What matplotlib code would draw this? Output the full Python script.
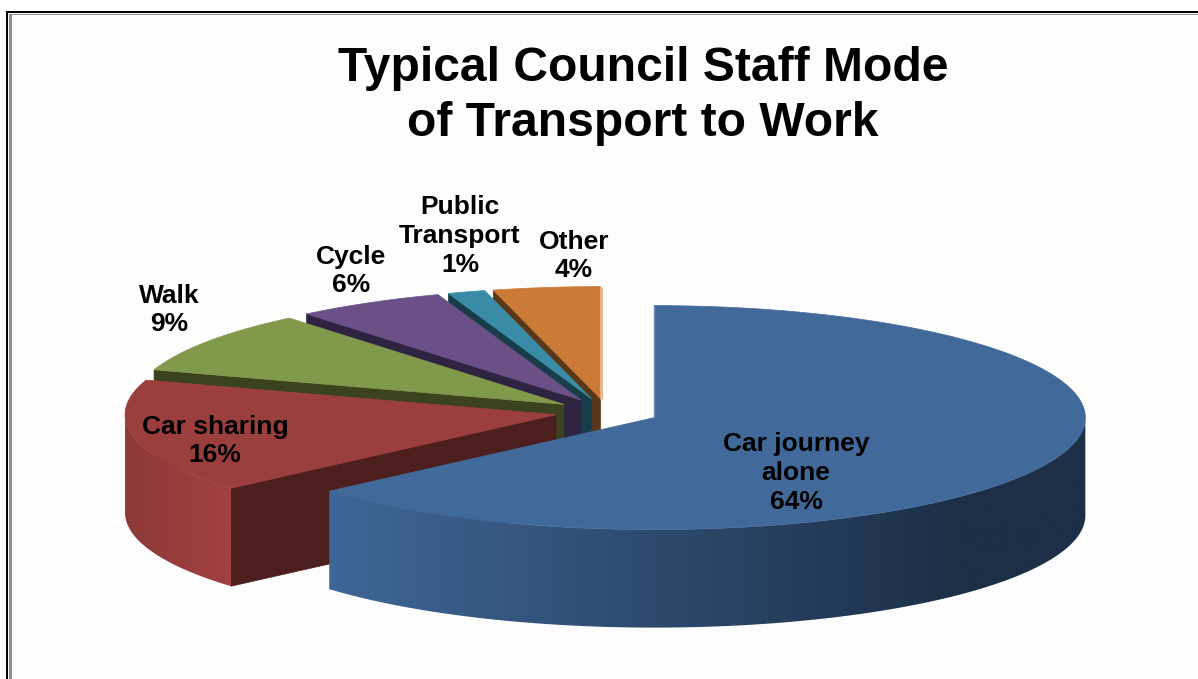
import numpy as np
import matplotlib
matplotlib.use("Agg")
import matplotlib.pyplot as plt
from matplotlib.patches import Polygon, Rectangle
from matplotlib.colors import to_rgb

# Chart data
categorias = ["Car journey\nalone", "Car sharing", "Walk", "Cycle", "Public\nTransport", "Other"]
valores = [63.6, 16.4, 9, 5.6, 1.4, 4]
etiquetas_pct = ["64%", "16%", "9%", "6%", "1%", "4%"]
titulo = "Typical Council Staff Mode\nof Transport to Work"

# Colours of each slice: top, cut face
color_top = ["#416A9B", "#9B3F3E", "#81994B", "#6A5086", "#3A8BA5", "#CB7A37"]
color_corte = ["#2B4566", "#4D1E1E", "#3A421E", "#2E2340", "#183D4A", "#5A3817"]

# Pie geometry in pixels
CX, CY = 607, 412
RX, RY = 431, 112
PROF = 98
EXPLODE = 52 / 431

# Label centres in pixels
pos_etiquetas = [(796, 473), (215, 441), (169, 310), (351, 271), (460, 236), (574, 256)]


def punto(cx, cy, theta):
    # theta in degrees, clockwise from 12 o'clock
    t = np.radians(theta)
    return cx + RX * np.sin(t), cy - RY * np.cos(t)


def mezcla(c1, c2, t):
    a, b = np.array(to_rgb(c1)), np.array(to_rgb(c2))
    return a + (b - a) * t


def color_pared(i, x):
    # Side wall shading, only the big slice really changes along x
    if i == 0:
        return mezcla("#3F6797", "#1C2F47", np.clip((x - 328) / (960 - 328), 0, 1))
    return mezcla("#8E3A39", "#9E4140", np.clip((x - 125) / 100, 0, 1))


def dibujar_porcion(ax, i, t0, t1, z):
    medio = np.radians((t0 + t1) / 2)
    ax0 = CX + EXPLODE * RX * np.sin(medio)
    ay0 = CY - EXPLODE * RY * np.cos(medio)

    # Cut face on the starting side
    if i > 0:
        x0, y0 = punto(ax0, ay0, t0)
        cara = [(ax0, ay0), (x0, y0), (x0, y0 + PROF), (ax0, ay0 + PROF)]
        ax.add_patch(Polygon(cara, closed=True, fc=color_corte[i], ec=color_corte[i], lw=0.5, zorder=z))

    # Outer wall, only the part facing the viewer, as a gradient clipped to its outline
    a, b = max(t0, 90), min(t1, 270)
    if a < b:
        angulos = np.linspace(a, b, 300)
        xs, ys = punto(ax0, ay0, angulos)
        verts = list(zip(xs, ys)) + list(zip(xs[::-1], ys[::-1] + PROF))
        pared = Polygon(verts, closed=True, fc="none", ec="none", zorder=z)
        ax.add_patch(pared)
        x_min, x_max = xs.min(), xs.max()
        y_min, y_max = ys.min(), ys.max() + PROF
        columnas = np.linspace(x_min, x_max, 400)
        gradiente = np.array([[color_pared(i, c) for c in columnas]])
        img = ax.imshow(gradiente, extent=(x_min, x_max, y_max, y_min), aspect="auto",
                        interpolation="bilinear", zorder=z)
        img.set_clip_path(pared)

    # Top face
    angulos = np.linspace(t0, t1, 200)
    xs, ys = punto(ax0, ay0, angulos)
    verts = [(ax0, ay0)] + list(zip(xs, ys))
    ax.add_patch(Polygon(verts, closed=True, fc=color_top[i], ec=color_top[i], lw=0.5, zorder=z + 0.5))

    # Thin light edge on the last slice and the first one
    if i == 5:
        x1, y1 = punto(ax0, ay0, t1)
        ax.plot([x1 + 0.5, ax0 + 0.5], [y1, ay0], color="#E8B48E", lw=2, solid_capstyle="butt", zorder=z + 0.6)
    if i == 0:
        x1, y1 = punto(ax0, ay0, t0)
        ax.plot([x1, ax0], [y1, ay0], color="#6D8DB5", lw=1, solid_capstyle="butt", zorder=z + 0.6)


fig = plt.figure(figsize=(11.98, 6.79), dpi=100)
ax = fig.add_axes([0, 0, 1, 1])

# Background and double frame at the left and top
ax.add_patch(Rectangle((6, 11), 1192, 668, fc="#FDFDFD", ec="none", zorder=0))
ax.add_patch(Rectangle((6, 11), 2, 668, fc="black", ec="none", zorder=0.1))
ax.add_patch(Rectangle((6, 11), 1192, 2, fc="black", ec="none", zorder=0.1))
ax.add_patch(Rectangle((9, 14), 3, 665, fc="#8C8C8C", ec="none", zorder=0.1))
ax.add_patch(Rectangle((9, 14), 1189, 1.2, fc="#8C8C8C", ec="none", zorder=0.1))

# Slices, painted from the back to the front
limites = np.concatenate([[0], np.cumsum(valores)]) / np.sum(valores) * 360
for z, i in enumerate([5, 4, 3, 2, 1, 0]):
    dibujar_porcion(ax, i, limites[i], limites[i + 1], z + 1)

# Texts
fuente = "Liberation Sans"
ax.text(643, 96, titulo, ha="center", va="center", fontsize=34.6, fontweight="bold",
        family=fuente, color="black", linespacing=1.3, zorder=20)
for nombre, pct, (x, y) in zip(categorias, etiquetas_pct, pos_etiquetas):
    ax.text(x, y, nombre + "\n" + pct, ha="center", va="center", fontsize=19,
            fontweight="bold", family=fuente, color="black", linespacing=1.25, zorder=20)

# imshow resets the limits, so they are set at the end
ax.set_xlim(0, 1198)
ax.set_ylim(679, 0)
ax.axis("off")

fig.savefig("out.png", dpi=100)
